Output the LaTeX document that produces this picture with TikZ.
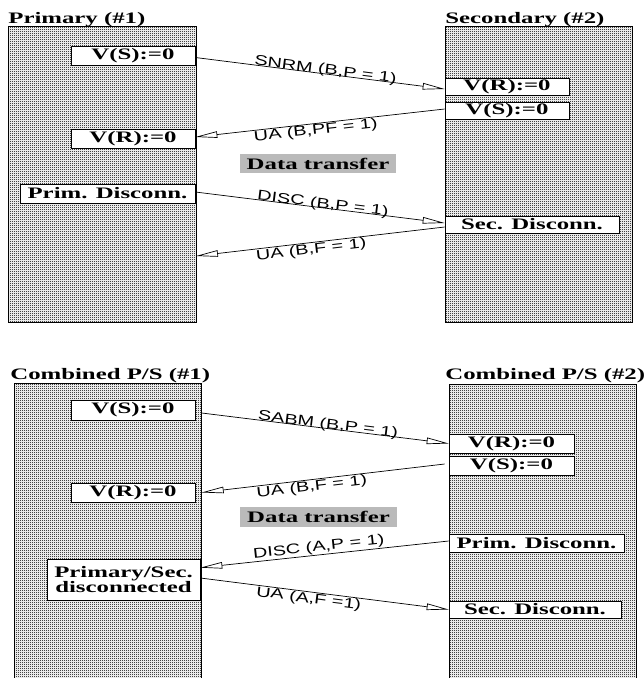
\documentclass[tikz,border=0pt]{standalone}
\usepackage{graphicx}
\usepackage{fontspec}
\setmainfont{Liberation Serif}
\setsansfont{Liberation Sans}
\usetikzlibrary{arrows.meta,patterns}
\newcommand{\sx}[1]{\scalebox{1.55}[1]{#1}}
\newcommand{\lx}[1]{\scalebox{1.42}[1]{#1}}
\pgfdeclarepatternformonly{finedots}{\pgfpointorigin}{\pgfqpoint{2pt}{2pt}}{\pgfqpoint{2pt}{2pt}}{%
  \pgfpathcircle{\pgfqpoint{0.5pt}{0.5pt}}{0.62pt}%
  \pgfpathcircle{\pgfqpoint{1.5pt}{1.5pt}}{0.62pt}%
  \pgfusepath{fill}}
\begin{document}
\begin{tikzpicture}[x=1pt, y=-1pt, line width=0.7pt,
    >={Triangle[open, length=22pt, width=6.5pt]},
    ttl/.style={font=\fontsize{16}{18}\selectfont\bfseries, anchor=base west, inner sep=0pt},
    stn/.style={draw, pattern=finedots, anchor=north west, inner sep=0pt},
    st/.style={draw, fill=white, font=\fontsize{16}{17}\selectfont\bfseries, inner sep=0pt, minimum height=19pt},
    dt/.style={fill=black!27, font=\fontsize{16}{17}\selectfont\bfseries, inner sep=0pt, minimum width=156pt, minimum height=19pt},
    lb/.style={font=\fontsize{14}{16}\selectfont\sffamily, sloped, inner sep=0.5pt}]
  \useasboundingbox (0,0) rectangle (644,678);
  \node[ttl] (t1) at (8,23) {\sx{Primary (\#1)}};
  \node[ttl] (t2) at (445,23) {\sx{Secondary (\#2)}};
  \node[stn, minimum width=188pt, minimum height=296pt] (pri) at (8,26) {};
  \node[stn, minimum width=187pt, minimum height=296pt] (sec) at (445,26) {};
  \node[st, minimum width=124pt] (vs1) at (133,55.5) {\sx{V(S):=0}};
  \node[st, minimum width=124pt] (vr1) at (133,138.5) {\sx{V(R):=0}};
  \node[st, minimum width=175pt] (pd1) at (107.5,193.5) {\sx{Prim. Disconn.}};
  \node[st, minimum width=124pt, minimum height=17pt] (vr2) at (507,86.5) {\sx{V(R):=0}};
  \node[st, minimum width=124pt, minimum height=17pt] (vs2) at (507,110.5) {\sx{V(S):=0}};
  \node[st, minimum width=174pt, minimum height=17pt] (sd2) at (532,224.5) {\sx{Sec. Disconn.}};
  \node[dt] (dt1) at (318,163.5) {\sx{Data transfer}};
  \coordinate (p1) at (196,256);
  \draw[->] ([yshift=-2pt]vs1.east) -- node[lb, above, anchor=base, pos=0.52] {\lx{SNRM (B,P = 1)}} ([yshift=-2.5pt]vr2.west);
  \draw[<-] ([yshift=1.5pt]vr1.east) -- node[lb, below, pos=0.48] {\lx{UA (B,PF = 1)}} ([yshift=1.5pt]vs2.west);
  \draw[->] ([yshift=1.5pt]pd1.east) -- node[lb, above, anchor=base, pos=0.51] {\lx{DISC (B,P = 1)}} ([yshift=1.5pt]sd2.west);
  \draw[<-] (p1) -- node[lb, below, pos=0.46] {\lx{UA (B,F = 1)}} ([yshift=-2.5pt]sd2.west);
  \node[ttl] (t3) at (10,379) {\sx{Combined P/S (\#1)}};
  \node[ttl] (t4) at (445,379) {\sx{Combined P/S (\#2)}};
  \node[stn, minimum width=187pt, minimum height=310pt] (cpa) at (14,383) {};
  \node[stn, minimum width=187pt, minimum height=310pt] (cpb) at (449,384) {};
  \node[st, minimum width=124pt, minimum height=20pt] (vs3) at (133,410) {\sx{V(S):=0}};
  \node[st, minimum width=124pt] (vr3) at (133,492.5) {\sx{V(R):=0}};
  \node[st, minimum width=153pt, minimum height=41pt, align=center] (ps3) at (123.5,579.5) {\sx{Primary/Sec.}\\[-2pt]\sx{disconnected}};
  \node[st, minimum width=125pt] (vr4) at (511.5,443.5) {\sx{V(R):=0}};
  \node[st, minimum width=125pt] (vs4) at (511.5,465.5) {\sx{V(S):=0}};
  \node[st, minimum width=175pt, minimum height=18pt] (pd4) at (536.5,543) {\sx{Prim. Disconn.}};
  \node[st, minimum width=172pt, minimum height=17pt] (sd4) at (535,609.5) {\sx{Sec. Disconn.}};
  \node[dt, minimum width=157pt, minimum height=20pt] (dt2) at (318.5,517) {\sx{Data transfer}};
  \draw[->] ([yshift=-3pt]vs3.east -| cpa.east) -- node[lb, above, anchor=base, pos=0.51] {\lx{SABM (B,P = 1)}} (vr4.west);
  \draw[<-] (vr3.east -| cpa.east) -- node[lb, below, pos=0.45] {\lx{UA (B,F = 1)}} ([xshift=-4pt, yshift=1.5pt]vs4.west);
  \draw[<-] ([yshift=-9pt]ps3.north east) -- node[lb, above, pos=0.48] {\lx{DISC (A,P = 1)}} ([yshift=2pt]pd4.west);
  \draw[->] ([yshift=1.5pt]ps3.east) -- node[lb, below, pos=0.44] {\lx{UA (A,F =1)}} (sd4.west);
\end{tikzpicture}
\end{document}
